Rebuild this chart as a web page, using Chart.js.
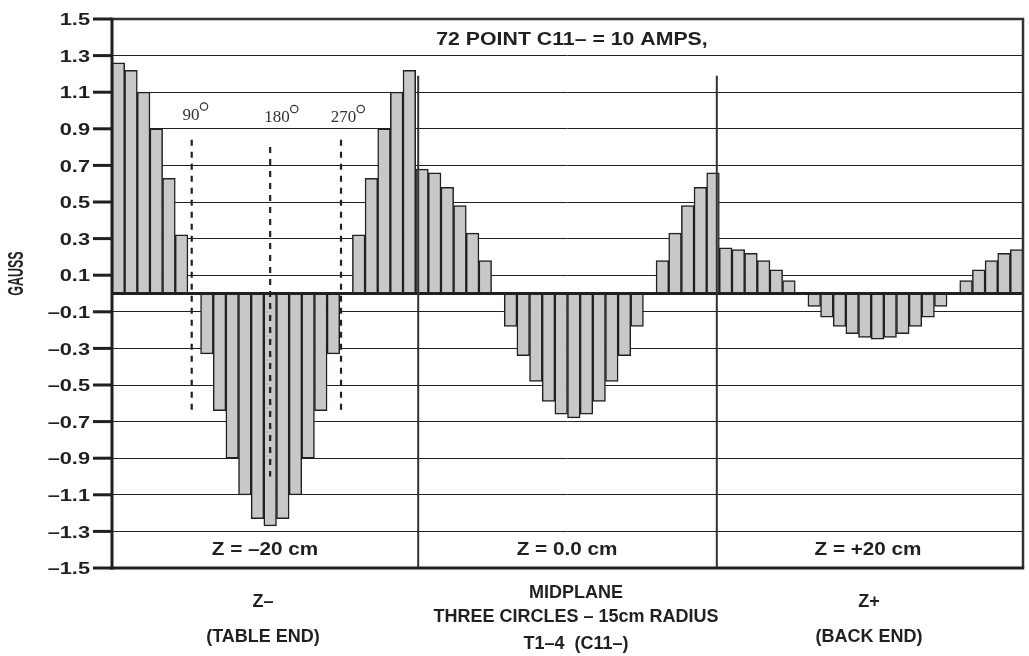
<!DOCTYPE html>
<html>
<head>
<meta charset="utf-8">
<script src="https://cdn.jsdelivr.net/npm/chart.js@4.4.1/dist/chart.umd.min.js"></script>
<style>
  html, body { margin: 0; padding: 0; background: #ffffff; }
  canvas { display: block; }
</style>
</head>
<body>
<canvas id="chart" width="1029" height="656"></canvas>
<script>
// Field readings (gauss) at 24 points around each 15 cm circle, 15 degree steps.
const zMinusValues = [1.26, 1.22, 1.10, 0.90, 0.63, 0.32, 0, -0.33, -0.64, -0.90, -1.10, -1.23,
                      -1.27, -1.23, -1.10, -0.90, -0.64, -0.33, 0, 0.32, 0.63, 0.90, 1.10, 1.22];
const midplaneValues = [0.68, 0.66, 0.58, 0.48, 0.33, 0.18, 0, -0.18, -0.34, -0.48, -0.59, -0.66,
                        -0.68, -0.66, -0.59, -0.48, -0.34, -0.18, 0, 0.18, 0.33, 0.48, 0.58, 0.66];
const zPlusValues = [0.25, 0.24, 0.22, 0.18, 0.13, 0.07, 0, -0.07, -0.13, -0.18, -0.22, -0.24,
                     -0.25, -0.24, -0.22, -0.18, -0.13, -0.07, 0, 0.07, 0.13, 0.18, 0.22, 0.24];

const pointLabels = Array.from({ length: 72 }, (_, i) => String(i + 1));

const yTickValues = [1.5, 1.3, 1.1, 0.9, 0.7, 0.5, 0.3, 0.1, -0.1, -0.3, -0.5, -0.7, -0.9, -1.1, -1.3, -1.5];
const yTickLabels = ['1.5', '1.3', '1.1', '0.9', '0.7', '0.5', '0.3', '0.1',
                     '\u20130.1', '\u20130.3', '\u20130.5', '\u20130.7', '\u20130.9', '\u20131.1', '\u20131.3', '\u20131.5'];

const titleText = '72 POINT C11\u2013 = 10 AMPS,';
const axisTitle = 'GAUSS';
const sectionLabels = ['Z = \u201320 cm', 'Z = 0.0 cm', 'Z = +20 cm'];
const angleLabels = ['90', '180', '270'];
const footerLines = [
  ['Z\u2013', '(TABLE END)'],
  ['MIDPLANE', 'THREE CIRCLES \u2013 15cm RADIUS', 'T1\u20134  (C11\u2013)'],
  ['Z+', '(BACK END)']
];

const INK = '#231f20';
const SANS = '"Liberation Sans", Arial, sans-serif';
const SERIF = '"Liberation Serif", "Times New Roman", serif';

// Text drawn with its own horizontal/vertical scale, like the original typesetting.
function drawText(ctx, s, x, y, font, sx, align, color, sy) {
  ctx.save();
  ctx.font = font;
  ctx.fillStyle = color || INK;
  ctx.textAlign = align || 'center';
  ctx.textBaseline = 'alphabetic';
  ctx.translate(x, y);
  ctx.scale(sx, sy || 1);
  ctx.fillText(s, 0, 0);
  ctx.restore();
}

function line(ctx, x1, y1, x2, y2, w, color, dash) {
  ctx.save();
  ctx.beginPath();
  ctx.lineWidth = w;
  ctx.strokeStyle = color || INK;
  ctx.setLineDash(dash || []);
  ctx.moveTo(x1, y1);
  ctx.lineTo(x2, y2);
  ctx.stroke();
  ctx.restore();
}

const decorations = {
  id: 'decorations',
  afterDatasetsDraw(chart) {
    const { ctx, chartArea: a, scales: { y } } = chart;
    const barW = a.width / pointLabels.length;
    const ux = u => a.left + u * barW;

    // zero line
    const y0 = y.getPixelForValue(0);
    line(ctx, a.left, y0, a.right, y0, 3, INK);

    // dashed reference lines at 90, 180 and 270 degrees in the Z- circle
    const dashed = [
      { u: 6.3, top: 0.84, bottom: -0.64 },
      { u: 12.5, top: 0.80, bottom: -1.00 },
      { u: 18.1, top: 0.84, bottom: -0.64 }
    ];
    dashed.forEach(d => {
      line(ctx, ux(d.u), y.getPixelForValue(d.top), ux(d.u), y.getPixelForValue(d.bottom), 2.2, INK, [6, 6]);
    });

    // angle labels with degree circles
    const angleSpots = [{ x: 191, base: 119.5 }, { x: 277, base: 122 }, { x: 343.5, base: 122 }];
    angleLabels.forEach((s, i) => {
      const p = angleSpots[i];
      ctx.save();
      ctx.font = '17px ' + SERIF;
      const w = ctx.measureText(s).width;
      ctx.restore();
      drawText(ctx, s, p.x, p.base, '17px ' + SERIF, 1, 'center', '#333');
      ctx.save();
      ctx.beginPath();
      ctx.lineWidth = 1.2;
      ctx.strokeStyle = '#333';
      ctx.arc(p.x + w / 2 + 4.5, p.base - 13, 3.7, 0, Math.PI * 2);
      ctx.stroke();
      ctx.restore();
    });

    // section dividers
    [24.2, 47.8].forEach(u => {
      line(ctx, ux(u), y.getPixelForValue(1.19), ux(u), a.bottom, 2, '#333');
    });

    // frame
    line(ctx, a.left - 1.5, a.top, a.right + 1.2, a.top, 2.5, '#333');
    line(ctx, a.right, a.top, a.right, a.bottom, 2.5, '#333');
    line(ctx, a.left, a.top - 1.2, a.left, a.bottom + 1.5, 3, INK);
    line(ctx, a.left - 1.5, a.bottom, a.right + 1.2, a.bottom, 3, INK);

    // y ticks and labels
    y.ticks.forEach((t, i) => {
      const py = y.getPixelForValue(t.value);
      line(ctx, a.left - 19, py, a.left, py, 3, INK);
      drawText(ctx, yTickLabels[i], 90, py + 6.2, 'bold 17px ' + SANS, 1.28, 'right');
    });

    // axis title
    ctx.save();
    ctx.font = 'bold 15px ' + SANS;
    ctx.fillStyle = INK;
    ctx.textAlign = 'center';
    ctx.textBaseline = 'middle';
    ctx.translate(17, 273.5);
    ctx.scale(1.45, 0.83);
    ctx.rotate(-Math.PI / 2);
    ctx.fillText(axisTitle, 0, 0);
    ctx.restore();

    // title
    drawText(ctx, titleText, 572, 45, 'bold 19px ' + SANS, 1.12, 'center');

    // section labels inside the plot
    const sectionCenters = [265, 567, 868];
    sectionLabels.forEach((s, i) => {
      drawText(ctx, s, sectionCenters[i], 555, 'bold 18px ' + SANS, 1.15, 'center');
    });

    // captions below the plot
    const footerCenters = [263, 576, 869];
    const footerBases = [[607, 642], [598, 621.5, 648.5], [607, 642]];
    footerLines.forEach((lines, i) => {
      lines.forEach((s, j) => {
        drawText(ctx, s, footerCenters[i], footerBases[i][j], 'bold 18px ' + SANS, 1.0, 'center');
      });
    });
  }
};

new Chart(document.getElementById('chart').getContext('2d'), {
  type: 'bar',
  data: {
    labels: pointLabels,
    datasets: [{
      data: [...zMinusValues, ...midplaneValues, ...zPlusValues],
      backgroundColor: '#c7c8ca',
      borderColor: INK,
      borderWidth: 1.5,
      borderSkipped: 'start',
      barPercentage: 1,
      categoryPercentage: 1
    }]
  },
  options: {
    responsive: false,
    animation: false,
    events: [],
    layout: { padding: { top: 19, right: 6, left: 0, bottom: 0 } },
    plugins: { legend: { display: false }, tooltip: { enabled: false }, title: { display: false } },
    scales: {
      x: {
        ticks: { display: false },
        grid: { display: false },
        border: { display: false },
        afterFit(scale) { scale.height = 88; }
      },
      y: {
        min: -1.5,
        max: 1.5,
        afterBuildTicks(scale) { scale.ticks = yTickValues.map(v => ({ value: v })); },
        ticks: { display: false },
        grid: { color: INK, lineWidth: 1, drawTicks: false },
        border: { display: false },
        afterFit(scale) { scale.width = 112; }
      }
    }
  },
  plugins: [decorations]
});
</script>
</body>
</html>
